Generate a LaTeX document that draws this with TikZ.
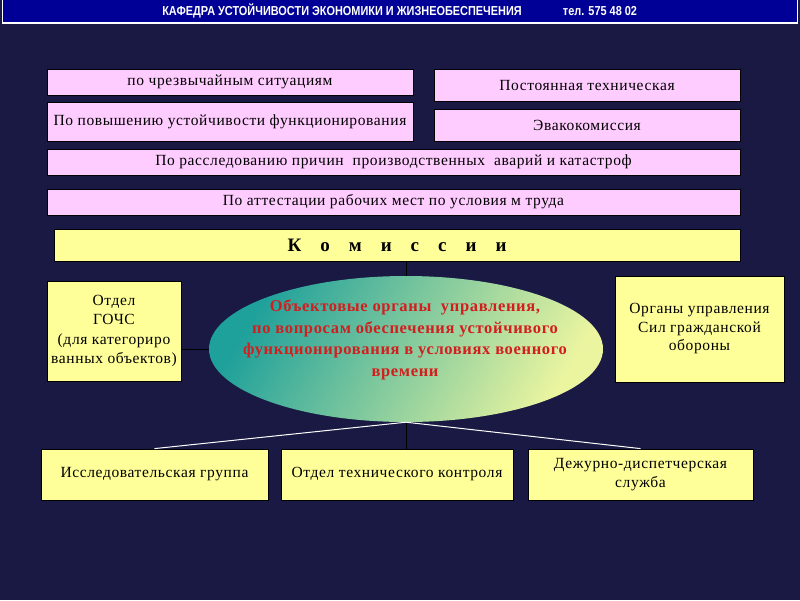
\documentclass[tikz,border=0pt]{standalone}
\usepackage{fontspec}
\setmainfont{Liberation Serif}[LetterSpace=4]
\newfontfamily\hdrfont{Liberation Sans}[FakeStretch=0.84]
\usetikzlibrary{shapes.geometric}
\definecolor{bgnavy}{RGB}{25,25,68}
\definecolor{hdrblue}{RGB}{0,0,150}
\definecolor{boxpink}{RGB}{255,204,255}
\definecolor{boxyellow}{RGB}{255,255,153}
\definecolor{elltop}{RGB}{30,160,155}
\definecolor{ellbot}{RGB}{235,245,160}
\definecolor{txtred}{RGB}{210,30,30}
\newcommand{\kgap}{\hspace{19pt}}
\begin{document}
\begin{tikzpicture}[x=1pt, y=-1pt,
  box/.style={draw=black, line width=0.8pt, align=center, inner sep=0pt, font=\fontsize{15.5}{18.5}\selectfont},
  pinkbox/.style={box, fill=boxpink},
  yellowbox/.style={box, fill=boxyellow}]
  \useasboundingbox (0,0) rectangle (800,600);
  \fill[bgnavy] (0,0) rectangle (800,600);
  \fill[white] (2,0) rectangle (798,23.5);
  \fill[hdrblue] (3,0) rectangle (797,21.5);
  \node[white, font=\hdrfont\bfseries\fontsize{13}{15}\selectfont] (hdr) at (342,11) {КАФЕДРА УСТОЙЧИВОСТИ ЭКОНОМИКИ И ЖИЗНЕОБЕСПЕЧЕНИЯ};
  \node[white, font=\hdrfont\bfseries\fontsize{13}{15}\selectfont] (tel) at (600,11) {тел. 575 48 02};
  \node[pinkbox, minimum width=366pt, minimum height=26pt] (chs) at (230,82) {по чрезвычайным ситуациям};
  \node[pinkbox, minimum width=366pt, minimum height=39pt] (ust) at (230,121.5) {По повышению устойчивости функционирования};
  \node[pinkbox, minimum width=306pt, minimum height=32pt] (post) at (587,85) {Постоянная техническая};
  \node[pinkbox, minimum width=306pt, minimum height=32pt] (evak) at (587,125) {Эвакокомиссия};
  \node[pinkbox, minimum width=693pt, minimum height=26pt] (rassl) at (393.5,162) {По расследованию причин \ производственных \ аварий и катастроф};
  \node[pinkbox, minimum width=693pt, minimum height=26pt] (att) at (393.5,202) {По аттестации рабочих мест по условия м труда};
  \node[yellowbox, minimum width=686pt, minimum height=32pt, font=\bfseries\fontsize{19}{22}\selectfont] (kom) at (397,245) {К\kgap о\kgap м\kgap и\kgap с\kgap с\kgap и\kgap и};
  \node[yellowbox, minimum width=134pt, minimum height=100pt, font=\fontsize{15.5}{19.3}\selectfont] (gochs) at (114,331) {Отдел\\ГОЧС\\(для категориро\\ванных объектов)};
  \node[yellowbox, minimum width=169pt, minimum height=106pt] (sgo) at (699.5,329) {Органы управления\\Сил гражданской\\обороны};
  \node[ellipse, minimum width=394pt, minimum height=146pt, top color=elltop, bottom color=ellbot, shading angle=60] (ell) at (406,349) {};
  \node[txtred, align=center, font=\bfseries\fontsize{16.5}{21.5}\selectfont] (elltxt) at (405,340) {Объектовые органы \ управления,\\по вопросам обеспечения устойчивого\\функционирования в условиях военного\\времени};
  \node[yellowbox, minimum width=227pt, minimum height=51pt] (issl) at (154.5,474.5) {Исследовательская группа};
  \node[yellowbox, minimum width=232pt, minimum height=51pt] (otk) at (397,474.5) {Отдел технического контроля};
  \node[yellowbox, minimum width=225pt, minimum height=51pt] (dds) at (640.5,474.5) {Дежурно-диспетчерская\\служба};
  \draw (ell.north) -- (ell.north |- kom.south);
  \draw (ell.west) -- (ell.west -| gochs.east);
  \draw (ell.south) -- (ell.south |- otk.north);
  \draw[white, line width=1pt] (ell.south) -- (issl.north);
  \draw[white, line width=1pt] (ell.south) -- (dds.north);
\end{tikzpicture}
\end{document}
